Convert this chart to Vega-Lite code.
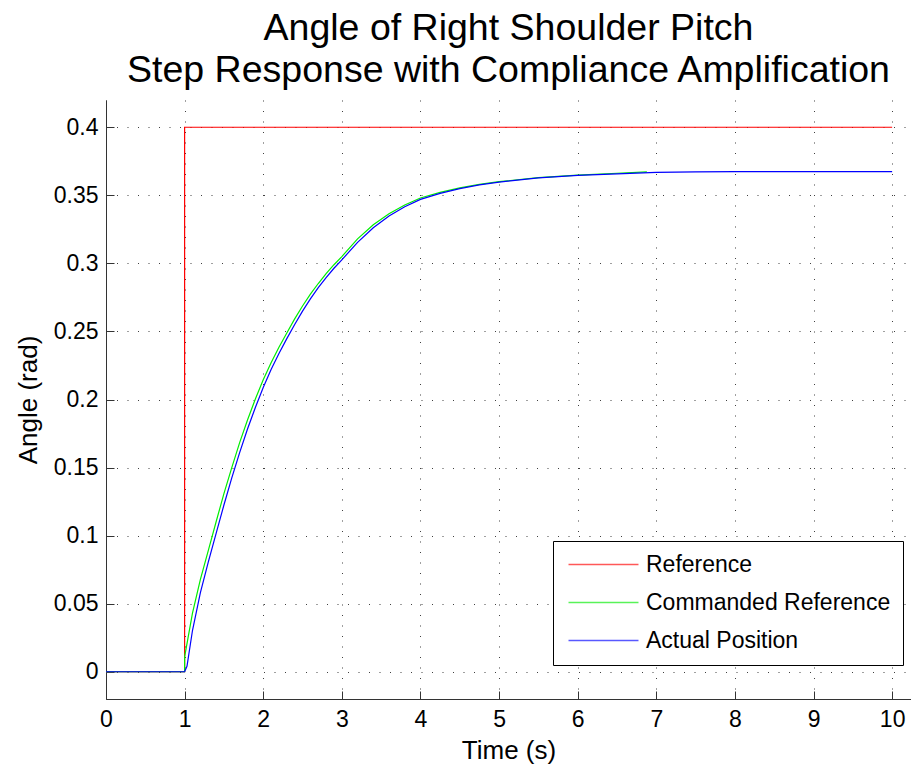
{
  "$schema": "https://vega.github.io/schema/vega-lite/v6.json",
  "autosize": "none",
  "width": 805,
  "height": 599,
  "padding": {"left": 106, "top": 100, "right": 0, "bottom": 67},
  "background": "white",
  "config": {
    "font": "Liberation Sans",
    "view": {"stroke": null},
    "axis": {
      "labelFont": "Liberation Sans",
      "titleFont": "Liberation Sans",
      "labelColor": "black",
      "titleColor": "black",
      "titleFontWeight": "normal",
      "domainColor": "#333333",
      "domainWidth": 1,
      "tickColor": "#333333",
      "tickSize": -8,
      "grid": true,
      "gridColor": "#000000",
      "gridOpacity": 0.75,
      "gridWidth": 1,
      "gridDash": [1, 9.5]
    }
  },
  "title": {
    "text": ["Angle of Right Shoulder Pitch", "Step Response with Compliance Amplification"],
    "font": "Liberation Sans",
    "fontSize": 37.5,
    "fontWeight": "normal",
    "lineHeight": 42,
    "color": "black",
    "anchor": "middle",
    "offset": 11
  },
  "data": {
    "values": [
      {"k": 1, "s": "Reference", "t": 0, "v": 0},
      {"k": 2, "s": "Reference", "t": 1, "v": 0},
      {"k": 3, "s": "Reference", "t": 1, "v": 0.4},
      {"k": 4, "s": "Reference", "t": 10, "v": 0.4},
      {"k": 1, "s": "Commanded Reference", "t": 0, "v": 0},
      {"k": 2, "s": "Commanded Reference", "t": 1, "v": 0},
      {"k": 3, "s": "Commanded Reference", "t": 1, "v": 0.011},
      {"k": 4, "s": "Commanded Reference", "t": 1.1, "v": 0.0431},
      {"k": 5, "s": "Commanded Reference", "t": 1.2, "v": 0.0677},
      {"k": 6, "s": "Commanded Reference", "t": 1.3, "v": 0.0888},
      {"k": 7, "s": "Commanded Reference", "t": 1.4, "v": 0.11},
      {"k": 8, "s": "Commanded Reference", "t": 1.5, "v": 0.1309},
      {"k": 9, "s": "Commanded Reference", "t": 1.6, "v": 0.15},
      {"k": 10, "s": "Commanded Reference", "t": 1.7, "v": 0.1683},
      {"k": 11, "s": "Commanded Reference", "t": 1.8, "v": 0.1849},
      {"k": 12, "s": "Commanded Reference", "t": 1.9, "v": 0.2003},
      {"k": 13, "s": "Commanded Reference", "t": 2.0, "v": 0.2145},
      {"k": 14, "s": "Commanded Reference", "t": 2.1, "v": 0.227},
      {"k": 15, "s": "Commanded Reference", "t": 2.2, "v": 0.2384},
      {"k": 16, "s": "Commanded Reference", "t": 2.3, "v": 0.2489},
      {"k": 17, "s": "Commanded Reference", "t": 2.4, "v": 0.2592},
      {"k": 18, "s": "Commanded Reference", "t": 2.5, "v": 0.2687},
      {"k": 19, "s": "Commanded Reference", "t": 2.6, "v": 0.2774},
      {"k": 20, "s": "Commanded Reference", "t": 2.7, "v": 0.2852},
      {"k": 21, "s": "Commanded Reference", "t": 2.8, "v": 0.2924},
      {"k": 22, "s": "Commanded Reference", "t": 2.9, "v": 0.299},
      {"k": 23, "s": "Commanded Reference", "t": 3.0, "v": 0.305},
      {"k": 24, "s": "Commanded Reference", "t": 3.2, "v": 0.318},
      {"k": 25, "s": "Commanded Reference", "t": 3.4, "v": 0.3283},
      {"k": 26, "s": "Commanded Reference", "t": 3.6, "v": 0.3364},
      {"k": 27, "s": "Commanded Reference", "t": 3.8, "v": 0.3429},
      {"k": 28, "s": "Commanded Reference", "t": 4.0, "v": 0.348},
      {"k": 29, "s": "Commanded Reference", "t": 4.25, "v": 0.3521},
      {"k": 30, "s": "Commanded Reference", "t": 4.5, "v": 0.3554},
      {"k": 31, "s": "Commanded Reference", "t": 4.75, "v": 0.358},
      {"k": 32, "s": "Commanded Reference", "t": 5.0, "v": 0.36},
      {"k": 33, "s": "Commanded Reference", "t": 5.5, "v": 0.363},
      {"k": 34, "s": "Commanded Reference", "t": 6.0, "v": 0.3648},
      {"k": 35, "s": "Commanded Reference", "t": 6.5, "v": 0.3662},
      {"k": 36, "s": "Commanded Reference", "t": 6.88, "v": 0.3672},
      {"k": 1, "s": "Actual Position", "t": 0, "v": 0},
      {"k": 2, "s": "Actual Position", "t": 1.0, "v": 0},
      {"k": 3, "s": "Actual Position", "t": 1.03, "v": 0.004},
      {"k": 4, "s": "Actual Position", "t": 1.1, "v": 0.0303},
      {"k": 5, "s": "Actual Position", "t": 1.2, "v": 0.0579},
      {"k": 6, "s": "Actual Position", "t": 1.3, "v": 0.0804},
      {"k": 7, "s": "Actual Position", "t": 1.4, "v": 0.1015},
      {"k": 8, "s": "Actual Position", "t": 1.5, "v": 0.1225},
      {"k": 9, "s": "Actual Position", "t": 1.6, "v": 0.1424},
      {"k": 10, "s": "Actual Position", "t": 1.7, "v": 0.161},
      {"k": 11, "s": "Actual Position", "t": 1.8, "v": 0.1783},
      {"k": 12, "s": "Actual Position", "t": 1.9, "v": 0.1941},
      {"k": 13, "s": "Actual Position", "t": 2.0, "v": 0.2088},
      {"k": 14, "s": "Actual Position", "t": 2.1, "v": 0.222},
      {"k": 15, "s": "Actual Position", "t": 2.2, "v": 0.2338},
      {"k": 16, "s": "Actual Position", "t": 2.3, "v": 0.2447},
      {"k": 17, "s": "Actual Position", "t": 2.4, "v": 0.2551},
      {"k": 18, "s": "Actual Position", "t": 2.5, "v": 0.2649},
      {"k": 19, "s": "Actual Position", "t": 2.6, "v": 0.2739},
      {"k": 20, "s": "Actual Position", "t": 2.7, "v": 0.2821},
      {"k": 21, "s": "Actual Position", "t": 2.8, "v": 0.2895},
      {"k": 22, "s": "Actual Position", "t": 2.9, "v": 0.2964},
      {"k": 23, "s": "Actual Position", "t": 3.0, "v": 0.3026},
      {"k": 24, "s": "Actual Position", "t": 3.2, "v": 0.3154},
      {"k": 25, "s": "Actual Position", "t": 3.4, "v": 0.3262},
      {"k": 26, "s": "Actual Position", "t": 3.6, "v": 0.3348},
      {"k": 27, "s": "Actual Position", "t": 3.8, "v": 0.3416},
      {"k": 28, "s": "Actual Position", "t": 4.0, "v": 0.347},
      {"k": 29, "s": "Actual Position", "t": 4.25, "v": 0.3514},
      {"k": 30, "s": "Actual Position", "t": 4.5, "v": 0.3549},
      {"k": 31, "s": "Actual Position", "t": 4.75, "v": 0.3576},
      {"k": 32, "s": "Actual Position", "t": 5.0, "v": 0.3597},
      {"k": 33, "s": "Actual Position", "t": 5.5, "v": 0.3628},
      {"k": 34, "s": "Actual Position", "t": 6.0, "v": 0.3646},
      {"k": 35, "s": "Actual Position", "t": 6.5, "v": 0.3658},
      {"k": 36, "s": "Actual Position", "t": 7.0, "v": 0.3668},
      {"k": 37, "s": "Actual Position", "t": 7.5, "v": 0.3672},
      {"k": 38, "s": "Actual Position", "t": 8.0, "v": 0.3674},
      {"k": 39, "s": "Actual Position", "t": 10.0, "v": 0.3674}
    ]
  },
  "mark": {"type": "line", "strokeWidth": 1.2, "clip": true},
  "encoding": {
    "x": {
      "field": "t",
      "type": "quantitative",
      "scale": {"domain": [0, 10.24], "nice": false, "zero": false},
      "axis": {
        "title": "Time (s)",
        "values": [0, 1, 2, 3, 4, 5, 6, 7, 8, 9, 10],
        "format": "d",
        "labelFontSize": 23,
        "labelPadding": 17,
        "titleFontSize": 26,
        "titlePadding": 6,
        "labelFlush": false
      }
    },
    "y": {
      "field": "v",
      "type": "quantitative",
      "scale": {"domain": [-0.02, 0.42], "nice": false, "zero": false},
      "axis": {
        "title": "Angle (rad)",
        "values": [0, 0.05, 0.1, 0.15, 0.2, 0.25, 0.3, 0.35, 0.4],
        "format": "~g",
        "labelFontSize": 23,
        "labelPadding": 16,
        "titleFontSize": 26,
        "titlePadding": 12,
        "labelFlush": false
      }
    },
    "color": {
      "field": "s",
      "type": "nominal",
      "scale": {
        "domain": ["Reference", "Commanded Reference", "Actual Position"],
        "range": ["#ff0000", "#00ee00", "#0000ff"]
      },
      "legend": {
        "title": null,
        "orient": "none",
        "legendX": 447,
        "legendY": 441,
        "direction": "vertical",
        "fillColor": "white",
        "strokeColor": "black",
        "padding": 12,
        "symbolType": "M-4,0H4",
        "symbolSize": 306,
        "symbolOffset": 27,
        "symbolStrokeWidth": 1.5,
        "symbolOpacity": 0.65,
        "labelFont": "Liberation Sans",
        "labelFontSize": 23,
        "labelColor": "black",
        "labelOffset": 31,
        "labelLimit": 400,
        "rowPadding": 14
      }
    },
    "order": {"field": "k", "type": "quantitative"}
  }
}
